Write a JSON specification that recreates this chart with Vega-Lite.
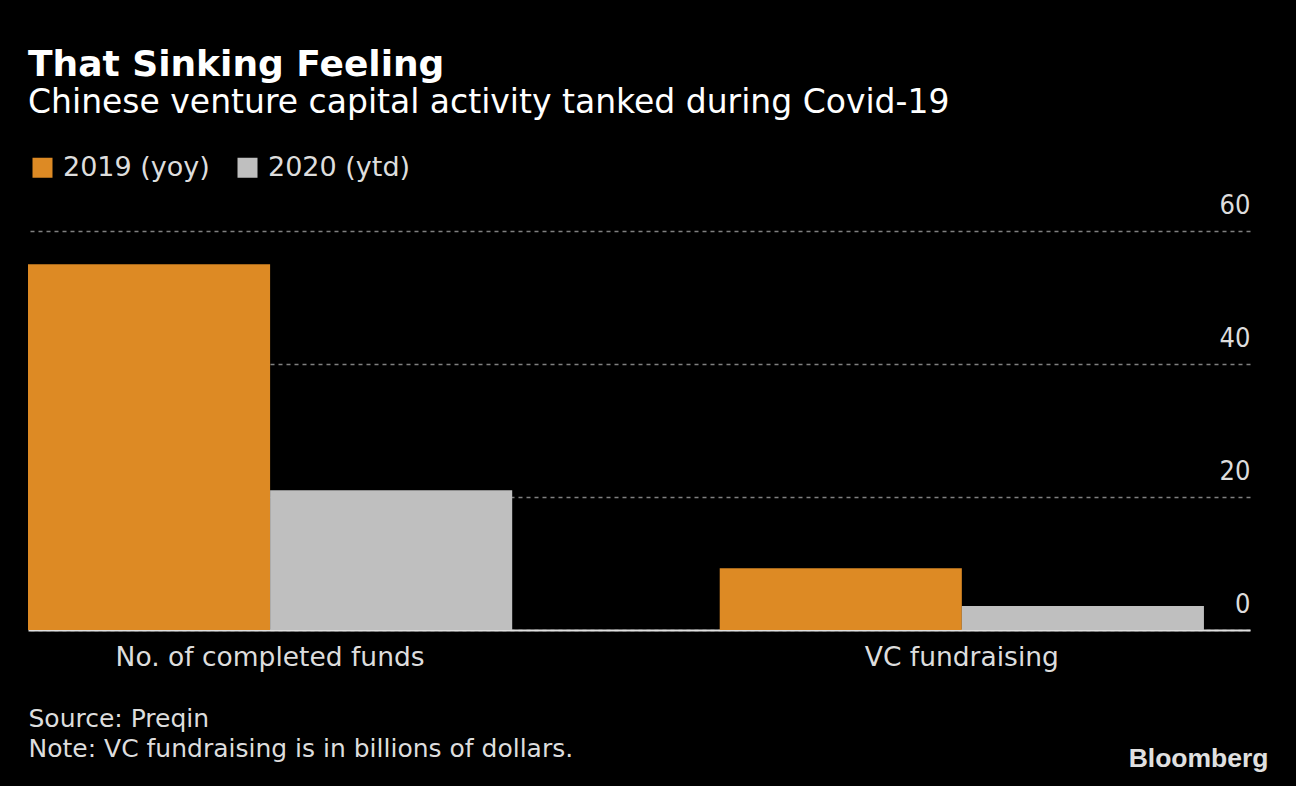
{
  "$schema": "https://vega.github.io/schema/vega-lite/v6.json",
  "width": 1222,
  "height": 399,
  "autosize": {"type": "none"},
  "padding": {"left": 28, "top": 231, "right": 46, "bottom": 156},
  "background": "#000000",
  "title": {
    "text": "That Sinking Feeling",
    "subtitle": "Chinese venture capital activity tanked during Covid-19",
    "anchor": "start",
    "frame": "group",
    "font": "DejaVu Sans",
    "fontSize": 36,
    "fontWeight": "bold",
    "color": "#ffffff",
    "subtitleFont": "DejaVu Sans",
    "subtitleFontSize": 33,
    "subtitleColor": "#ffffff",
    "subtitlePadding": 3,
    "offset": 33
  },
  "data": {
    "values": [
      {"metric": "No. of completed funds", "year": "2019 (yoy)", "value": 55},
      {"metric": "No. of completed funds", "year": "2020 (ytd)", "value": 21},
      {"metric": "VC fundraising", "year": "2019 (yoy)", "value": 9.3},
      {"metric": "VC fundraising", "year": "2020 (ytd)", "value": 3.6}
    ]
  },
  "mark": {"type": "bar"},
  "encoding": {
    "x": {
      "field": "metric",
      "type": "nominal",
      "sort": null,
      "scale": {"paddingInner": 0.3, "paddingOuter": 0.0333, "align": 0},
      "axis": {
        "title": ["Source: Preqin", "Note: VC fundraising is in billions of dollars."],
        "titleFont": "DejaVu Sans",
        "titleFontSize": 25,
        "titleFontWeight": "normal",
        "titleColor": "#dddddd",
        "titleAnchor": "start",
        "titleAlign": "left",
        "titleBaseline": "alphabetic",
        "titleLineHeight": 30,
        "titleX": 0,
        "titleY": 96,
        "labelAngle": 0,
        "labelFont": "DejaVu Sans",
        "labelFontSize": 26.5,
        "labelLimit": 600,
        "labelColor": "#dddddd",
        "labelPadding": 14,
        "ticks": false,
        "domain": true,
        "domainColor": "#e0e0e0",
        "domainWidth": 2,
        "grid": false
      }
    },
    "xOffset": {"field": "year", "type": "nominal", "scale": {"paddingInner": 0, "paddingOuter": 0}},
    "y": {
      "field": "value",
      "type": "quantitative",
      "scale": {"domain": [0, 60], "nice": false},
      "axis": {
        "orient": "right",
        "values": [0, 20, 40, 60],
        "title": "Bloomberg",
        "titleFont": "Liberation Sans",
        "titleFontSize": 26.5,
        "titleFontWeight": "bold",
        "titleColor": "#e0e0e0",
        "titleAngle": 0,
        "titleAlign": "right",
        "titleBaseline": "alphabetic",
        "titleX": 18,
        "titleY": 535,
        "domain": false,
        "ticks": false,
        "tickSize": 0,
        "labelPadding": 0,
        "labelAlign": "right",
        "labelBaseline": "alphabetic",
        "labelOffset": -18,
        "labelFont": "DejaVu Sans Condensed, DejaVu Sans",
        "labelFontSize": 27,
        "labelColor": "#dddddd",
        "grid": true,
        "gridColor": "#808080",
        "gridDash": [4, 4],
        "gridWidth": 1.5
      }
    },
    "color": {
      "field": "year",
      "type": "nominal",
      "scale": {"domain": ["2019 (yoy)", "2020 (ytd)"], "range": ["#dd8a24", "#bfbfbf"]},
      "legend": {
        "title": null,
        "orient": "none",
        "direction": "horizontal",
        "legendX": 1,
        "legendY": -77,
        "padding": 0,
        "symbolType": "square",
        "symbolSize": 400,
        "symbolStrokeWidth": 0,
        "labelFont": "DejaVu Sans",
        "labelFontSize": 27,
        "labelColor": "#dddddd",
        "labelOffset": 7,
        "columnPadding": 24
      }
    }
  },
  "config": {
    "view": {"stroke": null}
  }
}
